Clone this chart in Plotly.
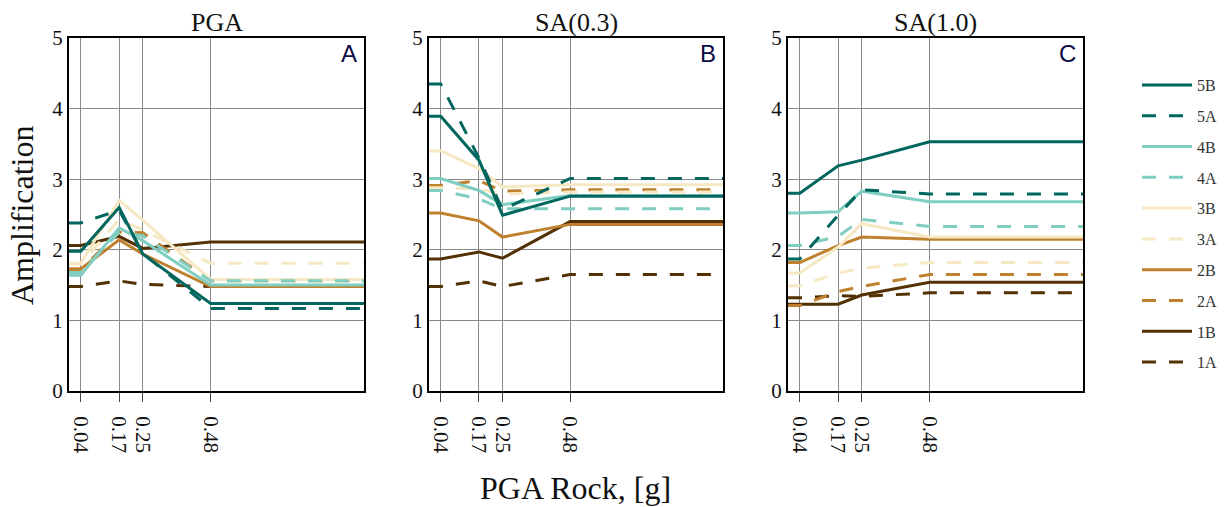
import plotly.graph_objects as go

# PGA rock levels (g) at which amplification was evaluated
pga_rock = [0.04, 0.17, 0.25, 0.48]
x_ticks = ["0.04", "0.17", "0.25", "0.48"]
x_span = [0.0, 1.0]

panel_titles = ["PGA", "SA(0.3)", "SA(1.0)"]
panel_letters = ["A", "B", "C"]

# Amplification factors per site class, one list per intensity measure
pga_amp = {
    "5B": [1.98, 2.60, 1.94, 1.24],
    "5A": [2.38, 2.56, 1.95, 1.17],
    "4B": [1.64, 2.31, 2.13, 1.50],
    "4A": [1.68, 2.25, 2.20, 1.56],
    "3B": [1.81, 2.70, 2.42, 1.58],
    "3A": [1.80, 2.43, 2.28, 1.81],
    "2B": [1.73, 2.14, 1.94, 1.48],
    "2A": [1.72, 2.25, 2.24, 1.56],
    "1B": [2.06, 2.19, 2.02, 2.11],
    "1A": [1.48, 1.56, 1.51, 1.48],
}
sa03_amp = {
    "5B": [3.89, 3.27, 2.49, 2.76],
    "5A": [4.35, 3.30, 2.57, 3.01],
    "4B": [3.01, 2.84, 2.64, 2.77],
    "4A": [2.84, 2.72, 2.58, 2.58],
    "3B": [3.40, 3.15, 2.89, 2.92],
    "3A": [2.88, 2.86, 2.79, 2.82],
    "2B": [2.52, 2.41, 2.18, 2.36],
    "2A": [2.91, 2.98, 2.83, 2.85],
    "1B": [1.87, 1.97, 1.88, 2.40],
    "1A": [1.48, 1.56, 1.48, 1.65],
}
sa10_amp = {
    "5B": [2.80, 3.19, 3.27, 3.53],
    "5A": [1.87, 2.49, 2.85, 2.79],
    "4B": [2.52, 2.54, 2.83, 2.68],
    "4A": [2.06, 2.19, 2.43, 2.33],
    "3B": [1.67, 2.04, 2.37, 2.18],
    "3A": [1.49, 1.67, 1.74, 1.82],
    "2B": [1.82, 2.06, 2.18, 2.15],
    "2A": [1.21, 1.41, 1.48, 1.65],
    "1B": [1.23, 1.23, 1.36, 1.54],
    "1A": [1.32, 1.35, 1.34, 1.39],
}
panels = [pga_amp, sa03_amp, sa10_amp]

# legend order (top to bottom); drawn in reverse so class 5 sits on top
legend_order = ["5B", "5A", "4B", "4A", "3B", "3A", "2B", "2A", "1B", "1A"]
class_colors = {
    "1": "#543005",
    "2": "#bf812d",
    "3": "#f6e8c3",
    "4": "#80cdc1",
    "5": "#01665e",
}

W, H = 1227, 507
# subplot boxes in pixels: (left, right)
boxes = [(69, 364), (429, 723), (788, 1083)]
y_top, y_bot = 38, 391

serif = "Liberation Serif"

fig = go.Figure()

for i, data in enumerate(panels):
    xa = "x" if i == 0 else f"x{i+1}"
    ya = "y" if i == 0 else f"y{i+1}"
    for name in reversed(legend_order):
        vals = data[name]
        # curves are held flat outside the sampled PGA range
        xs = [x_span[0]] + pga_rock + [x_span[1]]
        ys = [vals[0]] + vals + [vals[-1]]
        fig.add_trace(go.Scatter(
            x=xs, y=ys, mode="lines", name=name,
            legendgroup=name, showlegend=(i == 0),
            legendrank=legend_order.index(name) + 1,
            line=dict(color=class_colors[name[0]], width=3,
                      dash="solid" if name.endswith("B") else "14px,13px"),
            xaxis=xa, yaxis=ya,
        ))

layout = dict(
    width=W, height=H,
    margin=dict(l=0, r=0, t=0, b=0),
    paper_bgcolor="white", plot_bgcolor="white",
    showlegend=True,
    legend=dict(
        x=1137 / W, y=1 - 68 / H, xanchor="left", yanchor="top",
        traceorder="grouped", tracegroupgap=7,
        font=dict(family=serif, size=16, color="#333333"),
        bgcolor="rgba(0,0,0,0)", itemwidth=50,
    ),
)

for i, (l, r) in enumerate(boxes):
    sfx = "" if i == 0 else str(i + 1)
    layout["xaxis" + sfx] = dict(
        domain=[l / W, r / W], range=x_span, anchor="y" + sfx,
        tickvals=pga_rock, ticktext=x_ticks, tickangle=90,
        ticks="outside", ticklen=9, tickwidth=1, tickcolor="#444",
        ticklabelstandoff=10,
        tickfont=dict(family=serif, size=21, color="#111"),
        showgrid=True, gridcolor="#8a8a8a", gridwidth=1,
        showline=True, linecolor="black", linewidth=2, mirror=True,
        zeroline=False, automargin=False, fixedrange=True,
    )
    layout["yaxis" + sfx] = dict(
        domain=[1 - y_bot / H, 1 - y_top / H], range=[0, 5], anchor="x" + sfx,
        tickvals=[0, 1, 2, 3, 4, 5], ticks="",
        tickfont=dict(family=serif, size=21, color="#111"),
        showgrid=True, gridcolor="#8a8a8a", gridwidth=1,
        showline=True, linecolor="black", linewidth=2, mirror=True,
        zeroline=False, automargin=False, fixedrange=True,
    )

fig.update_layout(**layout)

annotations = []
for i, (l, r) in enumerate(boxes):
    annotations.append(dict(
        text=panel_titles[i], xref="paper", yref="paper",
        x=(l + r) / 2 / W, y=1 - 22 / H, xanchor="center", yanchor="middle",
        showarrow=False, font=dict(family=serif, size=26, color="#111"),
    ))
    annotations.append(dict(
        text=panel_letters[i], xref="paper", yref="paper",
        x=(r - 5) / W, y=1 - 54 / H, xanchor="right", yanchor="middle",
        showarrow=False, font=dict(family="Liberation Sans", size=24, color="#0b0b45"),
    ))

annotations.append(dict(
    text="Amplification", xref="paper", yref="paper",
    x=22 / W, y=1 - 215 / H, xanchor="center", yanchor="middle",
    textangle=-90, showarrow=False,
    font=dict(family=serif, size=32, color="#111"),
))
annotations.append(dict(
    text="PGA Rock, [g]", xref="paper", yref="paper",
    x=575 / W, y=1 - 488 / H, xanchor="center", yanchor="middle",
    showarrow=False, font=dict(family=serif, size=32, color="#111"),
))
fig.update_layout(annotations=annotations)

fig.write_html("out.html")
